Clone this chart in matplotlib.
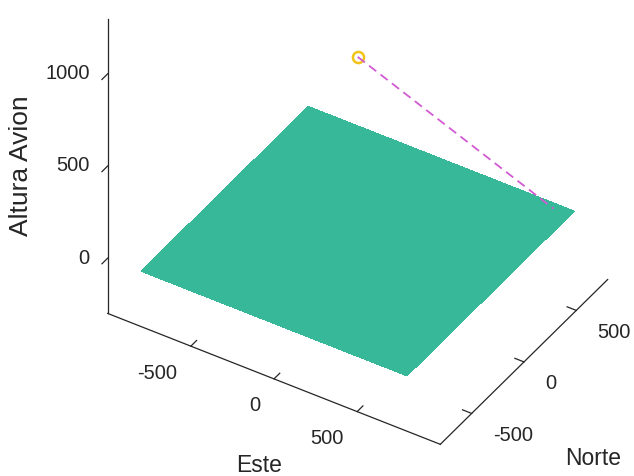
import numpy as np
import matplotlib
matplotlib.use("Agg")
import matplotlib.pyplot as plt
from mpl_toolkits.mplot3d import proj3d

# plano del terreno (z = 0)
plano_este = [-800, 800]
plano_norte = [-800, 800]
plano_altura = 0

# trayectoria: avion -> punto en el terreno
tray_este = [0, 700]
tray_norte = [0, 760]
tray_altura = [1000, 0]

ticks_este = [-500, 0, 500]
ticks_norte = [-500, 0, 500]
ticks_altura = [0, 500, 1000]

plt.rcParams["font.family"] = ["Liberation Sans", "DejaVu Sans"]
txt = "#262626"

fig = plt.figure(figsize=(6.34, 4.77), dpi=100)
ax = fig.add_axes([0.054, 0.172, 1.0, 1.0], projection="3d", proj_type="ortho")
ax.view_init(elev=38.5, azim=-57.7)
ax.set_box_aspect((402, 320, 385), zoom=1.279)
ax.computed_zorder = False

X, Y = np.meshgrid(plano_este, plano_norte)
Z = np.full_like(X, plano_altura, dtype=float)
ax.plot_surface(X, Y, Z, color="#37b899", shade=False, edgecolor="none",
                antialiased=False, zorder=1)

ax.plot(tray_este[:1], tray_norte[:1], tray_altura[:1], "o", mfc="none",
        mec="#f0c419", mew=1.8, ms=8, zorder=2)
ax.plot(tray_este, tray_norte, tray_altura, "--", color="#d25ad2", lw=1.3,
        dashes=(5, 3), zorder=3)

xmin, xmax = -1000, 1000
ymin, ymax = -800, 800
zmin, zmax = -300, 1300
ax.set_xlim(xmin, xmax)
ax.set_ylim(ymin, ymax)
ax.set_zlim(zmin, zmax)
ax.set_xticks([])
ax.set_yticks([])
ax.set_zticks([])

ax.grid(False)
for axis in (ax.xaxis, ax.yaxis, ax.zaxis):
    axis.set_pane_color((1, 1, 1, 0))
    axis.pane.set_edgecolor((1, 1, 1, 0))
    axis.line.set_color(txt)
    axis.line.set_linewidth(0.9)
ax.zaxis.set_ticks_position("lower")

# marcas de los ejes al estilo MATLAB
tk = dict(color=txt, lw=0.9, zorder=0, clip_on=False)
for v in ticks_este:
    ax.plot([v, v], [ymin, ymin + 55], [zmin, zmin], **tk)
for v in ticks_norte:
    ax.plot([xmax, xmax - 55], [v, v], [zmin, zmin], **tk)
for v in ticks_altura:
    ax.plot([xmin, xmin], [ymin, ymin - 55], [v, v], **tk)

fig.canvas.draw()
M = ax.get_proj()


def etiqueta(x, y, z, s, dx, dy, ha):
    px, py, _ = proj3d.proj_transform(x, y, z, M)
    ax.annotate(s, (px, py), xycoords="data", xytext=(dx, dy),
                textcoords="offset pixels", ha=ha, va="center",
                fontsize=14.5, color=txt, annotation_clip=False)


for v in ticks_este:
    etiqueta(v, ymin, zmin, str(v), -14, -26, "right")
for v in ticks_norte:
    etiqueta(xmax, v, zmin, str(v), 21, -21, "left")
for v in ticks_altura:
    etiqueta(xmin, ymin, v, str(v), -18, 1, "right")

fig.text(259 / 634, 1 - 466 / 477, "Este", fontsize=16.5, color=txt,
         ha="center", va="center")
fig.text(593 / 634, 1 - 459 / 477, "Norte", fontsize=16.5, color=txt,
         ha="center", va="center")
fig.text(21 / 634, 1 - 166 / 477, "Altura Avion", fontsize=19, color=txt,
         ha="center", va="center", rotation=90)

fig.savefig("out.png", dpi=100)
